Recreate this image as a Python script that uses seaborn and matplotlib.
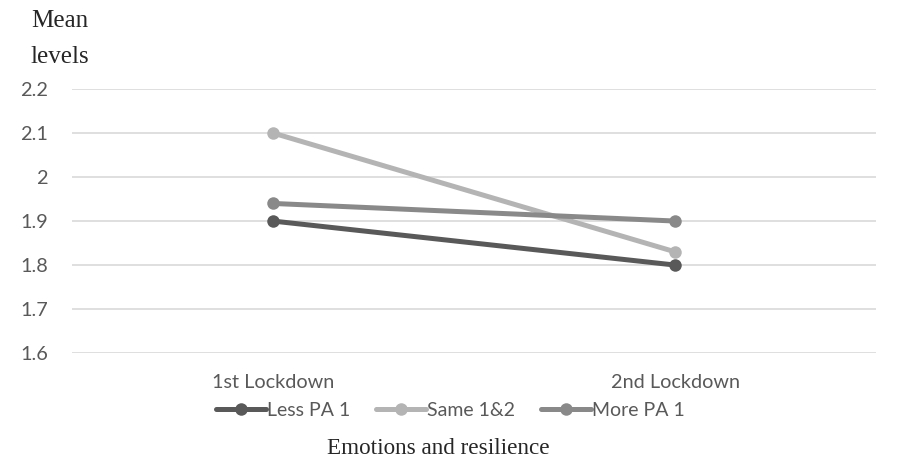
import pandas as pd
import matplotlib.pyplot as plt
import seaborn as sns

phases = ["1st Lockdown", "2nd Lockdown"]
groups = ["Less PA 1", "Same 1&2", "More PA 1"]
less_pa = [1.90, 1.80]
same = [2.10, 1.83]
more_pa = [1.94, 1.90]
colors = ["#595959", "#b4b4b4", "#898989"]
yticks = [1.6, 1.7, 1.8, 1.9, 2.0, 2.1, 2.2]
ytick_labels = ["1.6", "1.7", "1.8", "1.9", "2", "2.1", "2.2"]

rows = []
for g, vals in zip(groups, [less_pa, same, more_pa]):
    for p, v in zip(phases, vals):
        rows.append({"phase": p, "value": v, "group": g})
df = pd.DataFrame(rows)

sns.set_style("white")
plt.rcParams["font.family"] = ["Lato", "DejaVu Sans"]

fig = plt.figure(figsize=(8.97, 4.61), dpi=100)
ax = fig.add_axes([0.080, 0.234, 0.897, 0.573])

sns.lineplot(data=df, x="phase", y="value", hue="group", hue_order=groups,
             palette=colors, marker="o", markersize=9, markeredgewidth=0,
             linewidth=3.6, ax=ax, legend=False, zorder=3)

ax.set_xlim(-0.5, 1.5)
ax.set_ylim(1.6, 2.2)
ax.set_yticks(yticks)
ax.set_yticklabels(ytick_labels)
ax.yaxis.grid(True, color="#d9d9d9", linewidth=1.2)
ax.xaxis.grid(False)
for s in ax.spines.values():
    s.set_visible(False)
ax.tick_params(axis="both", length=0, labelsize=14.3, colors="#595959")
ax.tick_params(axis="y", pad=17)
ax.tick_params(axis="x", pad=15)
ax.set_xlabel("")
ax.set_ylabel("")

fig.text(0.067, 0.978, "Mean\nlevels", family="Liberation Serif", fontsize=18,
         ha="center", va="top", linespacing=1.8)

handles = [plt.Line2D([], [], color=c, linewidth=3.6, marker="o", markersize=9,
                      markeredgewidth=0) for c in colors]
fig.legend(handles, groups, loc="center", bbox_to_anchor=(0.502, 0.11), ncol=3,
           frameon=False, fontsize=14, handlelength=2.6, handletextpad=0.05,
           columnspacing=1.3, labelcolor="#595959")

fig.text(0.489, 0.027, "Emotions and resilience", family="Liberation Serif",
         fontsize=16.7, ha="center", va="center")

plt.savefig("out.png", dpi=100)
